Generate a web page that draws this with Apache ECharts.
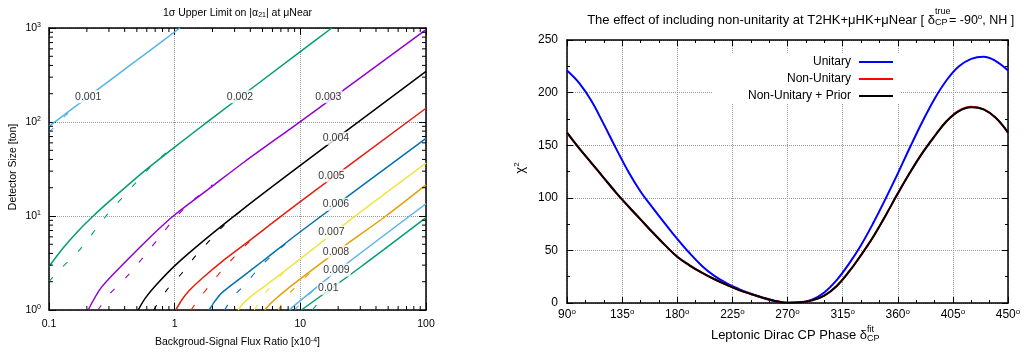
<!DOCTYPE html>
<html>
<head>
<meta charset="utf-8">
<script src="https://cdn.jsdelivr.net/npm/echarts@6/dist/echarts.min.js"></script>
<style>
  html, body { margin: 0; background: #fff; }
  #chart { width: 1025px; height: 358px; }
</style>
</head>
<body>
<div id="chart"></div>
<script>
// ---- left panel: detector size [ton] vs background/signal flux ratio [x1e-4]
const limits = ['0.001', '0.002', '0.003', '0.004', '0.005', '0.006', '0.007', '0.008', '0.009', '0.01']
const limitColors = ['#56b4e9', '#009e73', '#9400d3', '#000000', '#e51e10', '#0072b2', '#f0e442', '#e69f00', '#56b4e9', '#009e73']

const solidCurves = [
  [[0.1, 90], [0.2, 181], [0.3, 272], [0.6, 545], [1.1, 1000]],
  [[0.1, 2.9], [0.13, 4.6], [0.17, 6.9], [0.225, 10], [0.3, 14.2], [0.45, 22.8], [0.6, 31.5], [1, 54], [1.8, 99], [10, 560], [17.8, 1000]],
  [[0.205, 1], [0.262, 1.75], [0.415, 3.36], [0.65, 6.1], [0.975, 10], [2, 20.8], [3.62, 38], [10, 101], [100, 960]],
  [[0.513, 1], [0.58, 1.32], [0.7, 1.8], [1, 2.95], [1.74, 5.6], [3.6, 12.2], [10, 34.5], [100, 345]],
  [[1.02, 1], [1.15, 1.3], [1.3, 1.6], [1.64, 2.15], [2.5, 3.45], [3.6, 5.0], [10, 14.2], [100, 140]],
  [[1.88, 1], [2.1, 1.25], [2.37, 1.52], [3.6, 2.35], [5, 3.3], [10, 6.8], [100, 67]],
  [[3.2, 1], [3.5, 1.17], [4, 1.38], [5, 1.72], [7, 2.42], [10, 3.5], [26, 9.5], [100, 36.5]],
  [[5.2, 1], [5.8, 1.17], [6.5, 1.35], [8, 1.7], [10, 2.14], [20, 4.3], [48, 10], [100, 21.4]],
  [[8.2, 1], [9, 1.12], [10, 1.26], [20, 2.65], [100, 13.5]],
  [[10.2, 1], [30, 2.85], [100, 9.6]]
]

const dashedCurves = [
  [[0.1, 78], [0.115, 94], [0.135, 117], [0.17, 152], [0.22, 198]],
  [[0.1, 2.0], [0.122, 2.7], [0.171, 4.2], [0.288, 10.2], [0.5, 23.2], [0.65, 34], [0.9, 50]],
  [[0.245, 1], [0.3, 1.45], [0.428, 2.36], [0.764, 6.03], [0.975, 9.06], [1.32, 13.7], [2, 21.5]],
  [[0.68, 1], [0.864, 1.63], [1.14, 2.46], [1.45, 3.69], [1.91, 5.55], [2.5, 8.1], [3.5, 11.8]],
  [[1.35, 1], [1.54, 1.28], [2.1, 2.17], [2.67, 3.14], [3.5, 4.6], [5, 7]],
  [[2.5, 1], [2.93, 1.39], [3.6, 1.85], [4.92, 3.0], [6.5, 4.2], [9, 6.1]],
  [[4.3, 1], [5.1, 1.45], [6.9, 2.3], [9, 3.1]],
  [[6.7, 1], [7.5, 1.3], [9.6, 1.88], [12, 2.5]],
  [[9, 1], [9.6, 1.1], [11, 1.35], [14, 1.8]],
  [[12.5, 1], [14, 1.2], [18, 1.7]]
]

// where each limit value is written on its curve
const labelPos = [[0.205, 186], [3.31, 186], [16.7, 186], [19.2, 67], [17.7, 26.8],
  [19.2, 13.3], [17.7, 6.7], [19.2, 4.17], [19.4, 2.66], [16.7, 1.7]]

const fluxMinorTicks = [0.2, 0.3, 0.4, 0.5, 0.6, 0.7, 0.8, 0.9, 2, 3, 4, 5, 6, 7, 8, 9, 20, 30, 40, 50, 60, 70, 80, 90]
const sizeMinorTicks = [2, 3, 4, 5, 6, 7, 8, 9, 20, 30, 40, 50, 60, 70, 80, 90, 200, 300, 400, 500, 600, 700, 800, 900]

// ---- right panel: chi^2 vs fitted delta_CP
const phase = [90, 100, 110, 120, 130, 140, 150, 160, 170, 180, 190, 200, 210, 220, 230, 240, 250, 260, 270,
  280, 290, 300, 310, 320, 330, 340, 350, 360, 370, 380, 390, 400, 410, 420, 430, 440, 450]
const unitary = [221, 209, 192, 170, 147, 125, 106, 90.5, 75.5, 61, 47.5, 35.5, 26, 19, 13.5, 8.8, 4.8, 1.6, 0,
  0.5, 3.2, 10, 21.5, 37, 55, 76, 99, 123, 148, 172, 194, 212, 225, 232, 234, 230, 221]
const nonUnitary = [162, 147, 133, 119, 105, 92, 79.5, 67, 55, 44, 35.8, 28.8, 22.8, 17.5, 12.5, 8.6, 5, 2, 0.2,
  0.6, 2.5, 7, 16, 29.5, 45.5, 63, 83, 104, 124, 142.5, 158.5, 173, 182.8, 186.6, 184.3, 176, 162]
const nonUnitaryPrior = [162, 147, 133, 119, 105, 92, 79.5, 67, 55, 44, 35.8, 28.8, 22.8, 17.5, 12.5, 8.6, 5, 2, 0.2,
  0.6, 2.5, 7, 16, 29.5, 45.5, 63, 83, 104, 124, 142.5, 158.5, 173, 182.5, 186, 184, 176, 162]

const FONT = '"Liberation Sans", Arial, sans-serif'
const chart = echarts.init(document.getElementById('chart'))

const frame = { show: true, onZero: false, lineStyle: { color: '#000', width: 1.5 } }
const grid = { show: true, lineStyle: { color: '#999', type: 'dotted', width: 1 } }

function logMinorTicks(values, dir) {
  // 2..9 ticks of each decade, on both sides of the box
  return {
    type: 'custom', xAxisIndex: 0, yAxisIndex: 0, silent: true, clip: false, z: 6,
    data: values.map(v => (dir === 'x' ? [v, 1] : [0.1, v])),
    renderItem(params, api) {
      const v = api.value(dir === 'x' ? 0 : 1)
      const a = dir === 'x' ? api.coord([v, 1]) : api.coord([0.1, v])
      const b = dir === 'x' ? api.coord([v, 1000]) : api.coord([100, v])
      const s = { stroke: '#000', lineWidth: 1 }
      const L = 4
      const lines = dir === 'x'
        ? [[a[0], a[1], a[0], a[1] - L], [b[0], b[1], b[0], b[1] + L]]
        : [[a[0], a[1], a[0] + L, a[1]], [b[0], b[1], b[0] - L, b[1]]]
      return {
        type: 'group',
        children: lines.map(l => ({ type: 'line', shape: { x1: l[0], y1: l[1], x2: l[2], y2: l[3] }, style: s }))
      }
    }
  }
}

const leftSeries = []
dashedCurves.forEach((c, i) => {
  leftSeries.push({
    type: 'line', name: limits[i] + ' dashed', xAxisIndex: 0, yAxisIndex: 0,
    data: c, smooth: 0.3, symbol: 'none', z: 2, silent: true,
    lineStyle: { color: limitColors[i], width: 1.1, type: [6, 15] }
  })
})
solidCurves.forEach((c, i) => {
  leftSeries.push({
    type: 'line', name: limits[i], xAxisIndex: 0, yAxisIndex: 0,
    data: c, smooth: 0.3, symbol: 'none', z: 3, silent: true,
    lineStyle: { color: limitColors[i], width: 1.5 }
  })
})
leftSeries.push({
  type: 'scatter', xAxisIndex: 0, yAxisIndex: 0, data: labelPos, symbolSize: 0, z: 5, silent: true,
  label: {
    show: true, position: 'inside', formatter: p => limits[p.dataIndex],
    color: '#000', fontSize: 10.5, fontFamily: FONT, backgroundColor: '#fff', padding: [1, 1]
  }
})
leftSeries.push(logMinorTicks(fluxMinorTicks, 'x'), logMinorTicks(sizeMinorTicks, 'y'))

const rightSeries = [
  ['Unitary', unitary, '#0000ff'],
  ['Non-Unitary', nonUnitary, '#ff0000'],
  ['Non-Unitary + Prior', nonUnitaryPrior, '#000000']
].map(([name, vals, color]) => ({
  type: 'line', name, xAxisIndex: 2, yAxisIndex: 2, color,
  data: phase.map((p, i) => [p, vals[i]]),
  smooth: 0.4, symbol: 'none', z: 3, silent: true,
  lineStyle: { color, width: 2 }
}))

const supRich = size => ({ s: { fontSize: size, fontFamily: FONT, verticalAlign: 'top', lineHeight: size } })
const plain = (x, y, text, size, align) => ({
  type: 'text', x, y, silent: true,
  style: { text, font: size + 'px ' + FONT, fill: '#000', align, verticalAlign: 'middle', textAlign: align, textVerticalAlign: 'middle' }
})

const option = {
  animation: false,
  textStyle: { fontFamily: FONT },
  grid: [
    { left: 49, top: 28, width: 377, height: 282 },
    { left: 567, top: 40, width: 441, height: 263 }
  ],
  xAxis: [
    {
      gridIndex: 0, type: 'log', logBase: 10, min: 0.1, max: 100, position: 'bottom',
      axisLine: frame, axisTick: { inside: true, length: 7, lineStyle: { color: '#000' } },
      axisLabel: { color: '#000', fontSize: 10.5, fontFamily: FONT, margin: 9, formatter: v => String(Math.round(v * 10) / 10) },
      splitLine: grid
    },
    {
      gridIndex: 0, type: 'log', logBase: 10, min: 0.1, max: 100, position: 'top',
      axisLine: frame, axisTick: { inside: true, length: 7, lineStyle: { color: '#000' } },
      axisLabel: { show: false }, splitLine: { show: false }
    },
    {
      gridIndex: 1, type: 'value', min: 90, max: 450, interval: 45, position: 'bottom',
      axisLine: frame, axisTick: { inside: true, length: 6, lineStyle: { color: '#000' } },
      minorTick: { show: true, splitNumber: 3, length: 3, lineStyle: { color: '#000' } },
      axisLabel: {
        color: '#000', fontSize: 12, fontFamily: FONT, margin: 5, lineHeight: 14,
        formatter: v => v + '{s|o}', rich: supRich(8)
      },
      splitLine: grid
    },
    {
      gridIndex: 1, type: 'value', min: 90, max: 450, interval: 45, position: 'top',
      axisLine: frame, axisTick: { inside: true, length: 6, lineStyle: { color: '#000' } },
      minorTick: { show: true, splitNumber: 3, length: 3, lineStyle: { color: '#000' } },
      axisLabel: { show: false }, splitLine: { show: false }
    }
  ],
  yAxis: [
    {
      gridIndex: 0, type: 'log', logBase: 10, min: 1, max: 1000, position: 'left',
      axisLine: frame, axisTick: { inside: true, length: 7, lineStyle: { color: '#000' } },
      axisLabel: {
        color: '#000', fontSize: 10.5, fontFamily: FONT, margin: 8, lineHeight: 12,
        formatter: v => '10{s|' + Math.round(Math.log10(v)) + '}', rich: supRich(7)
      },
      splitLine: grid
    },
    {
      gridIndex: 0, type: 'log', logBase: 10, min: 1, max: 1000, position: 'right',
      axisLine: frame, axisTick: { inside: true, length: 7, lineStyle: { color: '#000' } },
      axisLabel: { show: false }, splitLine: { show: false }
    },
    {
      gridIndex: 1, type: 'value', min: 0, max: 250, interval: 50, position: 'left',
      axisLine: frame, axisTick: { inside: true, length: 6, lineStyle: { color: '#000' } },
      minorTick: { show: true, splitNumber: 2, length: 3, lineStyle: { color: '#000' } },
      axisLabel: { color: '#000', fontSize: 12, fontFamily: FONT, margin: 9 },
      splitLine: grid
    },
    {
      gridIndex: 1, type: 'value', min: 0, max: 250, interval: 50, position: 'right',
      axisLine: frame, axisTick: { inside: true, length: 6, lineStyle: { color: '#000' } },
      minorTick: { show: true, splitNumber: 2, length: 3, lineStyle: { color: '#000' } },
      axisLabel: { show: false }, splitLine: { show: false }
    }
  ],
  legend: {
    data: ['Unitary', 'Non-Unitary', 'Non-Unitary + Prior'],
    orient: 'vertical', align: 'right', right: 125, top: 53,
    icon: 'rect', itemWidth: 34, itemHeight: 2, itemGap: 3,
    padding: [2, 7, 1, 36], backgroundColor: '#fff', selectedMode: false,
    textStyle: { color: '#000', fontSize: 12, fontFamily: FONT, lineHeight: 14, padding: [0, 3, 0, 0] }
  },
  graphic: [
    {
      type: 'text', x: 237.5, y: 13, silent: true,
      style: {
        text: '1σ Upper Limit on |α{b|21}| at μNear', font: '10.5px ' + FONT, fill: '#000',
        align: 'center', verticalAlign: 'middle', textAlign: 'center', textVerticalAlign: 'middle', lineHeight: 12,
        rich: { b: { fontSize: 7, fontFamily: FONT, verticalAlign: 'bottom', lineHeight: 7 } }
      }
    },
    {
      type: 'text', x: 237.5, y: 342.5, silent: true,
      style: {
        text: 'Backgroud-Signal Flux Ratio [x10{s|-4}]', font: '10.5px ' + FONT, fill: '#000',
        align: 'center', verticalAlign: 'middle', textAlign: 'center', textVerticalAlign: 'middle', lineHeight: 12,
        rich: supRich(7)
      }
    },
    Object.assign(plain(13, 167, 'Detector Size [ton]', 10.5, 'center'), { rotation: Math.PI / 2 }),
    plain(935, 20.5, 'The effect of including non-unitarity at T2HK+μHK+μNear [ δ', 13, 'right'),
    plain(935, 11.5, 'true', 9, 'left'),
    plain(935, 22.5, 'CP', 9, 'left'),
    {
      type: 'text', x: 949, y: 20.5, silent: true,
      style: {
        text: '= -90{s|o}, NH ]', font: '12.5px ' + FONT, fill: '#000', lineHeight: 15,
        align: 'left', verticalAlign: 'middle', textAlign: 'left', textVerticalAlign: 'middle',
        rich: supRich(8)
      }
    },
    plain(867, 335, 'Leptonic Dirac CP Phase δ', 13, 'right'),
    plain(867, 329.5, 'fit', 9, 'left'),
    plain(867, 338.5, 'CP', 9, 'left'),
    {
      type: 'text', x: 520, y: 168, rotation: Math.PI / 2, silent: true,
      style: {
        text: 'χ{s|2}', font: '13px ' + FONT, fill: '#000', lineHeight: 15,
        align: 'center', verticalAlign: 'middle', textAlign: 'center', textVerticalAlign: 'middle',
        rich: supRich(8)
      }
    }
  ],
  series: leftSeries.concat(rightSeries)
}

chart.setOption(option)
</script>
</body>
</html>
